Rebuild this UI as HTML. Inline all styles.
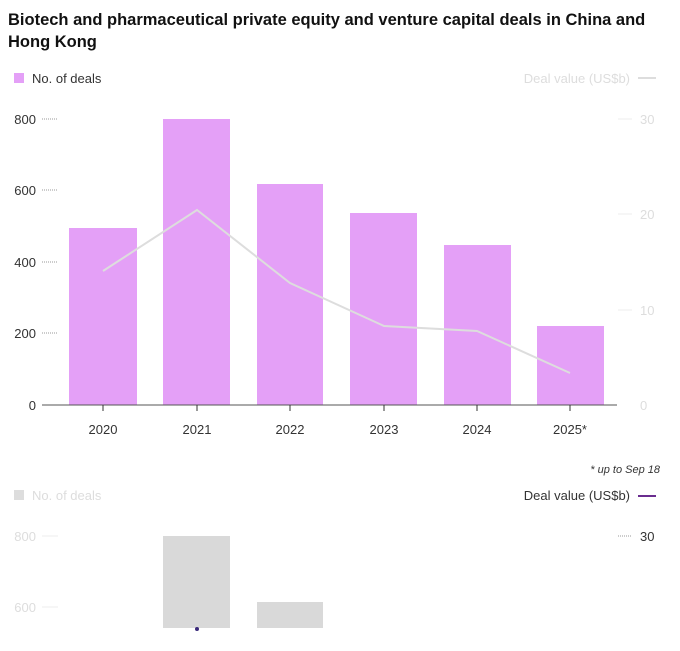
<!DOCTYPE html>
<html><head><meta charset="utf-8"><style>
body{margin:0;background:#fff;width:680px;height:646px;overflow:hidden;font-family:"Liberation Sans",sans-serif}
</style></head><body>
<svg width="680" height="646" xmlns="http://www.w3.org/2000/svg" font-family="Liberation Sans, sans-serif">
<text x="8" y="25" font-size="16.5" font-weight="bold" fill="#111">Biotech and pharmaceutical private equity and venture capital deals in China and</text>
<text x="8" y="47" font-size="16.5" font-weight="bold" fill="#111">Hong Kong</text>
<rect x="14" y="73" width="10" height="10" fill="#e4a0f7"/>
<text x="32" y="83" font-size="13" fill="#333">No. of deals</text>
<text x="630" y="83" font-size="13" fill="#ddd" text-anchor="end">Deal value (US$b)</text>
<line x1="638" y1="78" x2="656" y2="78" stroke="#ddd" stroke-width="2"/>
<g font-size="13" fill="#333" text-anchor="end">
<text x="36" y="124">800</text><text x="36" y="195">600</text><text x="36" y="267">400</text><text x="36" y="338">200</text><text x="36" y="410">0</text></g>
<g stroke="#999" stroke-dasharray="1,1"><line x1="42" y1="119" x2="58" y2="119"/><line x1="42" y1="190" x2="58" y2="190"/><line x1="42" y1="262" x2="58" y2="262"/><line x1="42" y1="333" x2="58" y2="333"/></g>
<g font-size="13" fill="#ddd"><text x="640" y="124">30</text><text x="640" y="219">20</text><text x="640" y="315">10</text><text x="640" y="410">0</text></g>
<g stroke="#eee"><line x1="618" y1="119" x2="632" y2="119"/><line x1="618" y1="214" x2="632" y2="214"/><line x1="618" y1="310" x2="632" y2="310"/></g>
<g fill="#e4a0f7">
<rect x="69" y="228" width="68" height="177"/><rect x="163" y="119" width="67" height="286"/><rect x="257" y="184" width="66" height="221"/><rect x="350" y="213" width="67" height="192"/><rect x="444" y="245" width="67" height="160"/><rect x="537" y="326" width="67" height="79"/></g>
<polyline points="103,271 197,210 290,283 384,326 477,331 570,373" fill="none" stroke="#ddd" stroke-width="2"/>
<line x1="42" y1="405" x2="617" y2="405" stroke="#555"/>
<g font-size="13" fill="#333" text-anchor="middle"><text x="103" y="434">2020</text><text x="197" y="434">2021</text><text x="290" y="434">2022</text><text x="384" y="434">2023</text><text x="477" y="434">2024</text><text x="570" y="434">2025*</text></g>
<g stroke="#333"><line x1="103" y1="405" x2="103" y2="411"/><line x1="197" y1="405" x2="197" y2="411"/><line x1="290" y1="405" x2="290" y2="411"/><line x1="384" y1="405" x2="384" y2="411"/><line x1="477" y1="405" x2="477" y2="411"/><line x1="570" y1="405" x2="570" y2="411"/></g>
<text x="660" y="473" font-size="11" font-style="italic" fill="#333" text-anchor="end">* up to Sep 18</text>
<rect x="14" y="490" width="10" height="10" fill="#ddd"/>
<text x="32" y="500" font-size="13" fill="#ddd">No. of deals</text>
<text x="630" y="500" font-size="13" fill="#333" text-anchor="end">Deal value (US$b)</text>
<line x1="638" y1="496" x2="656" y2="496" stroke="#6a2d8f" stroke-width="2"/>
<g font-size="13" fill="#ddd" text-anchor="end"><text x="36" y="541">800</text><text x="36" y="612">600</text></g>
<g stroke="#eee"><line x1="42" y1="536" x2="58" y2="536"/><line x1="42" y1="607" x2="58" y2="607"/></g>
<text x="640" y="541" font-size="13" fill="#333">30</text>
<line x1="618" y1="536" x2="632" y2="536" stroke="#999" stroke-dasharray="1,1"/>
<rect x="163" y="536" width="67" height="92" fill="#d9d9d9"/>
<rect x="257" y="602" width="66" height="26" fill="#d9d9d9"/>
<circle cx="197" cy="629" r="2" fill="#3a2a7a"/>
</svg>
</body></html>
